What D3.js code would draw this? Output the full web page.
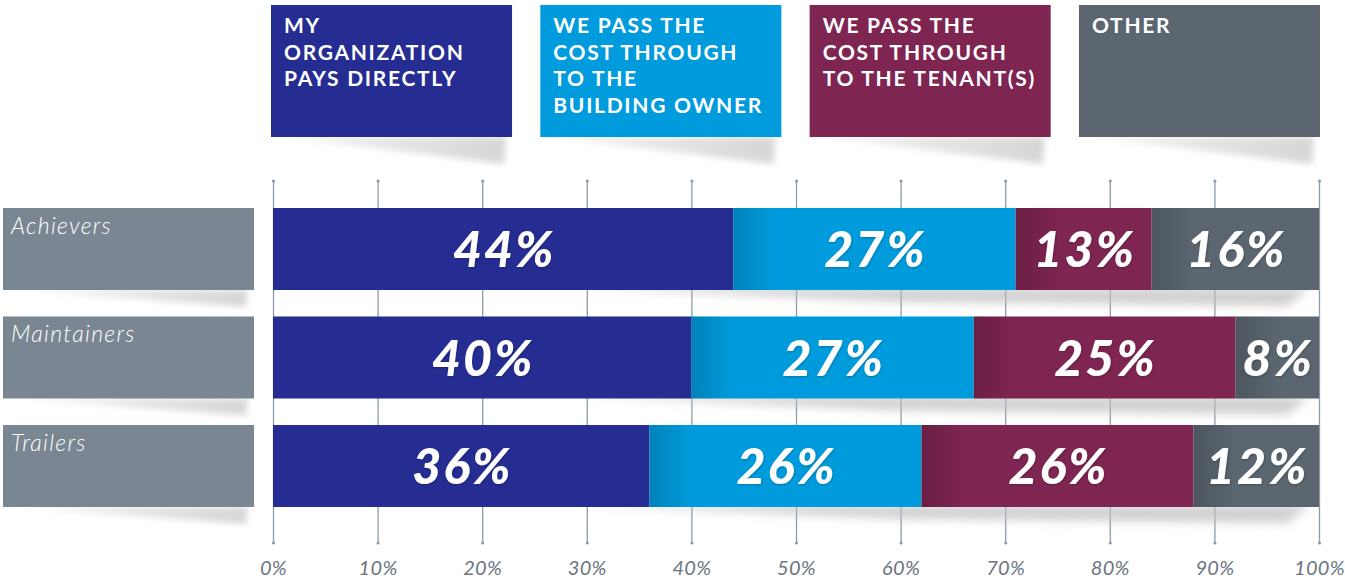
<!DOCTYPE html>
<html>
<head>
<meta charset="utf-8">
<script src="https://cdn.jsdelivr.net/npm/d3@7"></script>
<style>
  html, body { margin: 0; padding: 0; background: #ffffff; }
  svg { display: block; }
</style>
</head>
<body>
<svg id="chart" width="1345" height="580"></svg>
<script>
// Respondent groups (rows)
const groups = ["Achievers", "Maintainers", "Trailers"];

// Response options (stack order) and their legend text, one line per entry
const seriesKeys = ["direct", "owner", "tenant", "other"];
const legendLines = [
  ["MY", "ORGANIZATION", "PAYS DIRECTLY"],
  ["WE PASS THE", "COST THROUGH", "TO THE", "BUILDING OWNER"],
  ["WE PASS THE", "COST THROUGH", "TO THE TENANT(S)"],
  ["OTHER"]
];

// Share of each group (percent)
const payDirectly  = [44, 40, 36];
const passToOwner  = [27, 27, 26];
const passToTenant = [13, 25, 26];
const otherShare   = [16,  8, 12];

// Axis tick values
const tickValues = [0, 10, 20, 30, 40, 50, 60, 70, 80, 90, 100];

const colors = ["#252D92", "#009BDC", "#7E2551", "#5B6670"];
const labelBoxColor = "#7A8792";
const fontFamily = "Lato, 'Open Sans', sans-serif";

const rows = groups.map((g, i) => ({
  group: g,
  direct: payDirectly[i],
  owner: passToOwner[i],
  tenant: passToTenant[i],
  other: otherShare[i]
}));
const stacked = d3.stack().keys(seriesKeys)(rows);

const svg = d3.select("#chart");
const defs = svg.append("defs");

const x = d3.scaleLinear().domain([0, 100]).range([273, 1319]);
const y = d3.scaleBand().domain(groups).range([208, 507]).paddingInner(0.244).paddingOuter(0);
const legendX = d3.scaleBand().domain(seriesKeys).range([271, 1320]).paddingInner(0.105).paddingOuter(0);

// Filters and gradients
const blur = defs.append("filter").attr("id", "softBlur")
  .attr("x", "-20%").attr("y", "-50%").attr("width", "140%").attr("height", "200%");
blur.append("feGaussianBlur").attr("stdDeviation", 3);

const blurWide = defs.append("filter").attr("id", "wideBlur")
  .attr("x", "-20%").attr("y", "-100%").attr("width", "140%").attr("height", "300%");
blurWide.append("feGaussianBlur").attr("stdDeviation", 5);

const wedgeGrad = defs.append("linearGradient").attr("id", "wedgeGrad")
  .attr("x1", 0).attr("x2", 1).attr("y1", 0).attr("y2", 0);
wedgeGrad.append("stop").attr("offset", "0%").attr("stop-color", "#f4f4f4");
wedgeGrad.append("stop").attr("offset", "100%").attr("stop-color", "#d6d6d6");

const edgeGrad = defs.append("linearGradient").attr("id", "edgeShade")
  .attr("x1", 0).attr("x2", 1).attr("y1", 0).attr("y2", 0);
edgeGrad.append("stop").attr("offset", "0%").attr("stop-color", "#000").attr("stop-opacity", 0.16);
edgeGrad.append("stop").attr("offset", "100%").attr("stop-color", "#000").attr("stop-opacity", 0);

const textShade = defs.append("filter").attr("id", "textShade")
  .attr("x", "-10%").attr("y", "-10%").attr("width", "120%").attr("height", "130%");
textShade.append("feDropShadow").attr("dx", 0.6).attr("dy", 1).attr("stdDeviation", 0.8)
  .attr("flood-color", "#000").attr("flood-opacity", 0.25);

// Tapered shadow drawn under a box
function wedge(g, x0, x1, yTop, depth) {
  g.append("path")
    .attr("d", `M${x0 + 12},${yTop} L${x1 - 6},${yTop} L${x1 - 8},${yTop + depth} Z`)
    .attr("fill", "url(#wedgeGrad)")
    .attr("filter", "url(#softBlur)");
}

// Legend
const legend = svg.append("g").attr("class", "legend");
const legendTop = 5, legendH = 132;
seriesKeys.forEach((k, i) => {
  const bx = legendX(k), bw = legendX.bandwidth();
  wedge(legend, bx, bx + bw, legendTop + legendH, 27);
  legend.append("rect")
    .attr("x", bx).attr("y", legendTop).attr("width", bw).attr("height", legendH)
    .attr("fill", colors[i]);
  const t = legend.append("text")
    .attr("x", bx + 13).attr("y", legendTop + 28)
    .attr("fill", "#fff")
    .style("font-family", fontFamily)
    .style("font-weight", 700)
    .style("font-size", "21px")
    .style("letter-spacing", "1.7px");
  legendLines[i].forEach((line, j) => {
    t.append("tspan").attr("x", bx + 13).attr("dy", j === 0 ? 0 : 26.5).text(line);
  });
});

// Axis with full-height tick lines
const axisBottomY = 543, axisTopY = 181;
const axisG = svg.append("g")
  .attr("transform", `translate(0,${axisBottomY})`)
  .call(d3.axisBottom(x).tickValues(tickValues)
    .tickSize(-(axisBottomY - axisTopY))
    .tickPadding(12)
    .tickFormat(d => d + "%"));
axisG.select(".domain").remove();
axisG.selectAll(".tick line").attr("stroke", "#8D9BAA").attr("stroke-width", 1.3);
axisG.selectAll(".tick text")
  .attr("fill", "#6B7581")
  .style("font-family", fontFamily)
  .style("font-style", "italic")
  .style("font-weight", 400)
  .style("font-size", "20px")
  .style("letter-spacing", "0.3px")
  .attr("dy", "1.0em");
axisG.selectAll(".tick").each(function () {
  const tk = d3.select(this);
  tk.append("circle").attr("cx", 0).attr("cy", 0).attr("r", 1.6).attr("fill", "#8D9BAA");
  tk.append("circle").attr("cx", 0).attr("cy", -(axisBottomY - axisTopY)).attr("r", 1.6).attr("fill", "#8D9BAA");
});

// Bar shadows
const shadows = svg.append("g");
groups.forEach(g => {
  const b = y(g) + y.bandwidth();
  shadows.append("path")
    .attr("d", `M${x(30)},${b - 2} L${x(100) - 10},${b - 2} L${x(97)},${b + 16} L${x(60)},${b + 12} Z`)
    .attr("fill", "#bdbdbd")
    .attr("opacity", 0.7)
    .attr("filter", "url(#wideBlur)");
});

// Row label boxes
const labels = svg.append("g");
groups.forEach(g => {
  wedge(labels, 3, 254, y(g) + y.bandwidth(), 17);
  labels.append("rect")
    .attr("x", 3).attr("y", y(g)).attr("width", 251).attr("height", y.bandwidth())
    .attr("fill", labelBoxColor);
  labels.append("text")
    .attr("x", 11).attr("y", y(g) + 26)
    .attr("fill", "#fff")
    .style("font-family", fontFamily)
    .style("font-style", "italic")
    .style("font-weight", 300)
    .style("font-size", "23px")
    .style("letter-spacing", "1.3px")
    .text(g);
});

// Stacked bars
const bars = svg.append("g");
stacked.forEach((series, si) => {
  const layer = bars.append("g");
  series.forEach((seg, ri) => {
    const g = groups[ri];
    const x0 = x(seg[0]), x1 = x(seg[1]);
    layer.append("rect")
      .attr("x", x0).attr("y", y(g))
      .attr("width", x1 - x0).attr("height", y.bandwidth())
      .attr("fill", colors[si]);
    if (si > 0) {
      layer.append("rect")
        .attr("x", x0).attr("y", y(g))
        .attr("width", Math.min(42, x1 - x0)).attr("height", y.bandwidth())
        .attr("fill", "url(#edgeShade)");
    }
    const v = seg[1] - seg[0];
    layer.append("text")
      .attr("x", (x0 + x1) / 2 + 1)
      .attr("y", y(g) + y.bandwidth() / 2 + 18)
      .attr("text-anchor", "middle")
      .attr("fill", "#fff")
      .attr("filter", "url(#textShade)")
      .style("font-family", fontFamily)
      .style("font-style", "italic")
      .style("font-weight", 900)
      .style("font-size", "50px")
      .style("letter-spacing", "2px")
      .text(v + "%");
  });
});
</script>
</body>
</html>
